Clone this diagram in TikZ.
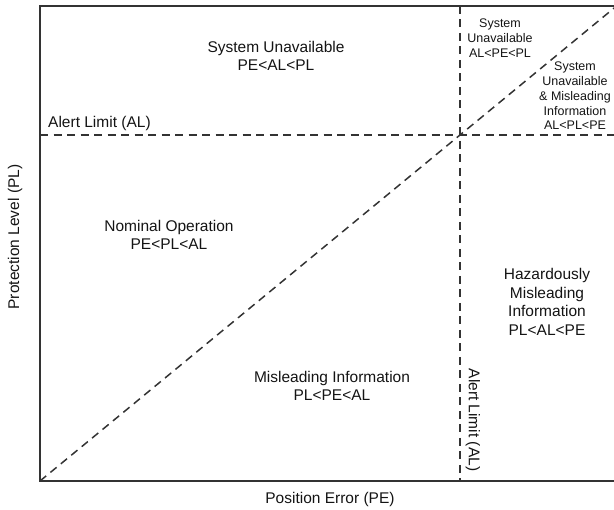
\documentclass[tikz,border=0pt]{standalone}
\usepackage{fontspec}
\setmainfont{Liberation Sans}
\usetikzlibrary{positioning,calc}
\definecolor{axisline}{HTML}{333333}
\definecolor{labeltext}{HTML}{141414}
\tikzset{
  frame/.style={draw=axisline, line width=1.6pt},
  limit/.style={draw=axisline, line width=1.5pt, dash pattern=on 8pt off 5.5pt},
  region/.style={align=center, text=labeltext, inner sep=0pt,
    font=\fontsize{15.5}{18.5}\selectfont},
  corner/.style={align=center, text=labeltext, inner sep=0pt,
    font=\fontsize{12.5}{14.8}\selectfont}
}

\begin{document}
\begin{tikzpicture}[x=1pt, y=-1pt]
  \useasboundingbox (0,0) rectangle (614,510);
  \clip (0,0) rectangle (614,510);

  % Corners of the chart
  \coordinate (o) at (40,481);
  \coordinate (tl) at (40,6);
  \coordinate (tr) at (614,6);
  \coordinate (br) at (614,481);
  % Alert limit lines
  \coordinate (cross) at (460,135);
  \coordinate (peTop) at (460,6);
  \coordinate (peBot) at (460,481);
  \coordinate (plLeft) at (40,135);
  \coordinate (plRight) at (614,135);

  % Frame
  \draw[frame] (tr) -- (tl) -- (o) -- (br);

  % Limits and PE = PL
  \draw[limit] (peTop) -- (peBot);
  \draw[limit] (plLeft) -- (plRight);
  \draw[limit] (o) -- ($(o)!1.38!(cross)$);

  % Regions
  \node[region] (unavail) at (276,56) {System Unavailable\\PE<AL<PL};
  \node[region] (nominal) at (169,235) {Nominal Operation\\PE<PL<AL};
  \node[region] (misinfo) at (332,386) {Misleading Information\\PL<PE<AL};
  \node[region] (hmi) at (547,302) {Hazardously\\Misleading\\Information\\PL<AL<PE};
  \node[corner] (unavailPE) at (500,38) {System\\Unavailable\\AL<PE<PL};
  \node[corner] (unavailMI) at (575,96) {System\\Unavailable\\\& Misleading\\Information\\AL<PL<PE};

  % Limit labels
  \node[region, anchor=west] (alH) at (48,123) {Alert Limit (AL)};
  \node[region, rotate=-90] (alV) at (473,420) {Alert Limit (AL)};

  % Axes
  \node[region] (peAxis) at (330,499) {Position Error (PE)};
  \node[region, rotate=90] (plAxis) at (15,237) {Protection Level (PL)};
\end{tikzpicture}
\end{document}
